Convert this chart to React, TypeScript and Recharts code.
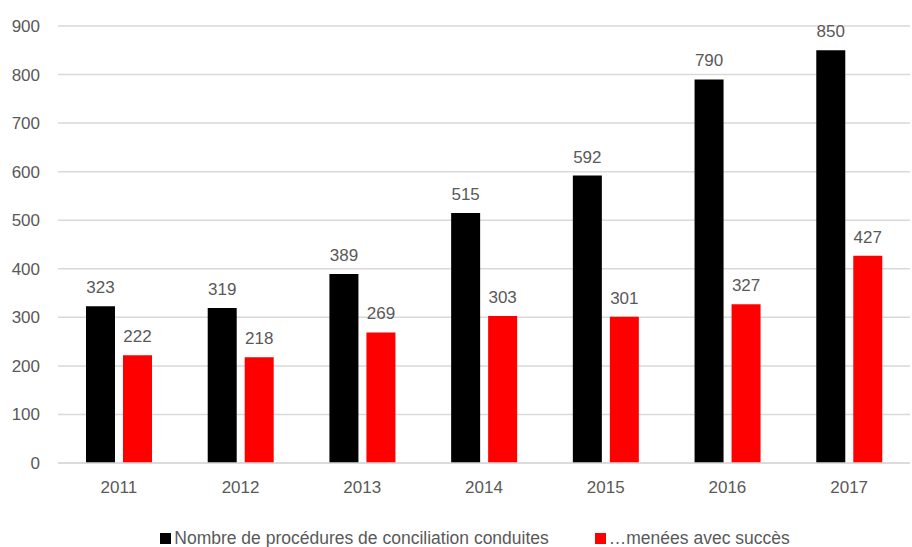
import React from 'react';
import { BarChart, Bar, XAxis, YAxis, CartesianGrid, Legend, LabelList } from 'recharts';

const years = ['2011', '2012', '2013', '2014', '2015', '2016', '2017'];
const conducted = [323, 319, 389, 515, 592, 790, 850];
const succeeded = [222, 218, 269, 303, 301, 327, 427];
const yTicks = [0, 100, 200, 300, 400, 500, 600, 700, 800, 900];

const data = years.map((year, i) => ({
  year,
  conducted: conducted[i],
  succeeded: succeeded[i],
}));

const FONT = '"Liberation Sans", Arial, sans-serif';
const TEXT = '#595959';
const SIZE = 17;

const LegendContent = () => (
  <div
    style={{
      display: 'flex',
      justifyContent: 'center',
      alignItems: 'center',
      height: 24,
      fontFamily: FONT,
      fontSize: 17.5,
      color: TEXT,
      marginLeft: 40,
      whiteSpace: 'nowrap',
      transform: 'translateY(3px)',
    }}
  >
    <span style={{ display: 'flex', alignItems: 'center', marginRight: 46 }}>
      <span style={{ width: 11, height: 11, background: '#000', marginRight: 3 }} />
      Nombre de procédures de conciliation conduites
    </span>
    <span style={{ display: 'flex', alignItems: 'center' }}>
      <span style={{ width: 11, height: 11, background: '#ff0000', marginRight: 3 }} />
      …menées avec succès
    </span>
  </div>
);

export default function App() {
  return (
    <div style={{ position: 'absolute', left: 0, top: 0 }}>
      <BarChart
        width={912}
        height={547}
        data={data}
        margin={{ top: 26, right: 2, left: 0, bottom: 0 }}
        barGap={8}
        barCategoryGap="23%"
      >
        <CartesianGrid vertical={false} stroke="#d9d9d9" strokeWidth={1.5} />
        <XAxis
          dataKey="year"
          axisLine={{ stroke: '#d9d9d9', strokeWidth: 1.5 }}
          tickLine={false}
          tickSize={0}
          tickMargin={18}
          height={60}
          tick={{ fill: TEXT, fontSize: SIZE, fontFamily: FONT }}
        />
        <YAxis
          domain={[0, 900]}
          ticks={yTicks}
          axisLine={false}
          tickLine={false}
          tickSize={0}
          tickMargin={18}
          width={58}
          tick={{ fill: TEXT, fontSize: SIZE, fontFamily: FONT }}
        />
        <Legend verticalAlign="bottom" height={24} content={<LegendContent />} />
        <Bar dataKey="conducted" fill="#000000" isAnimationActive={false}>
          <LabelList
            dataKey="conducted"
            position="top"
            offset={13}
            style={{ fill: TEXT, fontSize: SIZE, fontFamily: FONT }}
          />
        </Bar>
        <Bar dataKey="succeeded" fill="#ff0000" isAnimationActive={false}>
          <LabelList
            dataKey="succeeded"
            position="top"
            offset={13}
            style={{ fill: TEXT, fontSize: SIZE, fontFamily: FONT }}
          />
        </Bar>
      </BarChart>
    </div>
  );
}
